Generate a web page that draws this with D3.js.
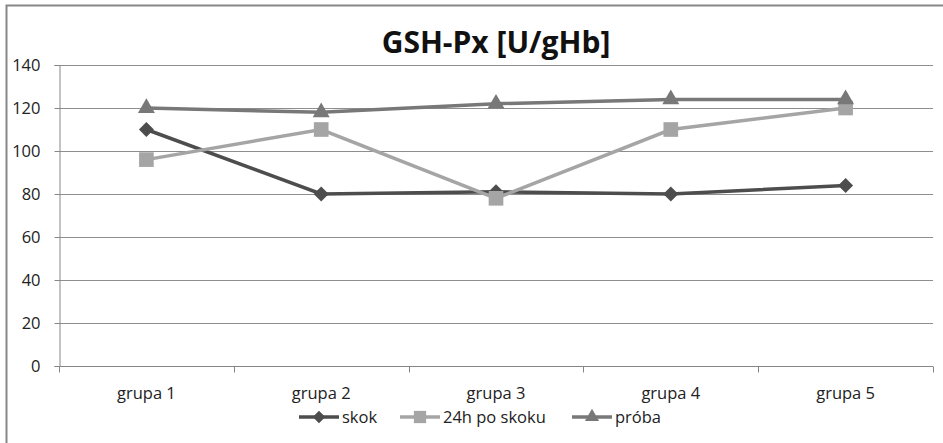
<!DOCTYPE html>
<html>
<head>
<meta charset="utf-8">
<script src="https://cdn.jsdelivr.net/npm/d3@7"></script>
<style>
  body { margin: 0; background: #fff; }
  svg { display: block; font-family: "Open Sans", sans-serif; }
</style>
</head>
<body>
<svg id="chart" width="943" height="443"></svg>
<script>
// categories and series
var groups = ["grupa 1", "grupa 2", "grupa 3", "grupa 4", "grupa 5"];
var skok = [110, 80, 81, 80, 84];
var po24h = [96, 110, 78, 110, 120];
var proba = [120, 118, 122, 124, 124];
var yTicks = [0, 20, 40, 60, 80, 100, 120, 140];
var seriesNames = ["skok", "24h po skoku", "próba"];

var series = [
  { name: seriesNames[0], values: skok, color: "#4d4d4d", symbol: d3.symbolSquare, rot: 45, size: 112 },
  { name: seriesNames[1], values: po24h, color: "#a5a5a5", symbol: d3.symbolSquare, rot: 0, size: 215 },
  { name: seriesNames[2], values: proba, color: "#787878", symbol: d3.symbolTriangle, rot: 0, size: 125 }
];

var svg = d3.select("#chart");

// outer frame (right and bottom edges run off the picture)
svg.append("rect")
  .attr("x", 6.5).attr("y", 5.5)
  .attr("width", 945).attr("height", 450)
  .attr("fill", "none")
  .attr("stroke", "#878787")
  .attr("stroke-width", 2);

var margin = { left: 59, top: 65 };
var width = 933 - margin.left;
var height = 366 - margin.top;

var g = svg.append("g").attr("transform", "translate(" + margin.left + "," + margin.top + ")");

var x = d3.scaleBand().domain(groups).range([0, width]);
var y = d3.scaleLinear().domain([0, 140]).range([height, 0]);

// gridlines
g.selectAll(".grid").data(yTicks).enter().append("line")
  .attr("x1", 0).attr("x2", width)
  .attr("y1", function(d) { return Math.round(y(d)) + 0.5; })
  .attr("y2", function(d) { return Math.round(y(d)) + 0.5; })
  .attr("stroke", "#8e8e8e")
  .attr("stroke-width", 1);

// y axis
var yAxis = g.append("g")
  .attr("transform", "translate(0.5,0)")
  .call(d3.axisLeft(y).tickValues(yTicks).tickSize(5).tickPadding(14));
yAxis.selectAll("path, line").attr("stroke", "#868686");
yAxis.selectAll("text").attr("font-size", 16.5).attr("fill", "#222").attr("font-family", "Open Sans");

// x axis
var xAxis = g.append("g")
  .attr("transform", "translate(0," + (height + 0.5) + ")")
  .call(d3.axisBottom(x).tickSize(0).tickPadding(21));
xAxis.select("path").attr("stroke", "#868686").attr("d", "M0,0H" + width);
xAxis.selectAll("text").attr("font-size", 16.5).attr("fill", "#222").attr("font-family", "Open Sans");
// tick marks between categories
xAxis.selectAll(".bound").data(d3.range(groups.length + 1)).enter().append("line")
  .attr("x1", function(i) { return Math.round(i * x.step()) + 0.5; })
  .attr("x2", function(i) { return Math.round(i * x.step()) + 0.5; })
  .attr("y1", 0).attr("y2", 6)
  .attr("stroke", "#868686");

var line = d3.line()
  .x(function(d, i) { return x(groups[i]) + x.bandwidth() / 2; })
  .y(function(d) { return y(d); });

series.forEach(function(s) {
  g.append("path")
    .datum(s.values)
    .attr("fill", "none")
    .attr("stroke", s.color)
    .attr("stroke-width", 3.5)
    .attr("d", line);
});
series.forEach(function(s) {
  g.selectAll(null).data(s.values).enter().append("path")
    .attr("d", d3.symbol().type(s.symbol).size(s.size))
    .attr("transform", function(d, i) {
      var tx = x(groups[i]) + x.bandwidth() / 2;
      return "translate(" + tx + "," + y(d) + ") rotate(" + s.rot + ")";
    })
    .attr("fill", s.color);
});

// title
svg.append("text")
  .attr("x", 496).attr("y", 53)
  .attr("text-anchor", "middle")
  .attr("font-size", 30)
  .attr("font-weight", "bold")
  .attr("fill", "#111")
  .text("GSH-Px [U/gHb]");

// legend
var legendX = [299, 400, 572];
var legend = svg.append("g").attr("transform", "translate(0,417)");
series.forEach(function(s, i) {
  var lg = legend.append("g").attr("transform", "translate(" + legendX[i] + ",0)");
  lg.append("line").attr("x1", 0).attr("x2", 40).attr("y1", 0).attr("y2", 0)
    .attr("stroke", s.color).attr("stroke-width", 3.5);
  lg.append("path").attr("d", d3.symbol().type(s.symbol).size(s.size * 0.7))
    .attr("transform", "translate(20,0) rotate(" + s.rot + ")").attr("fill", s.color);
  lg.append("text").attr("x", 43).attr("y", 6)
    .attr("font-size", 16.5).attr("fill", "#222")
    .text(s.name);
});
</script>
</body>
</html>
